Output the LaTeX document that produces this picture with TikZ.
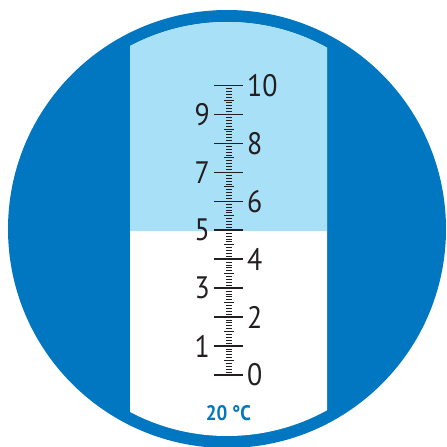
\documentclass[tikz,border=0pt]{standalone}
\usepackage{fontspec}
\usepackage{tikz}
\usetikzlibrary{positioning}
\newfontfamily\dinfont[FakeStretch=0.9]{PT Sans}
\definecolor{ringblue}{RGB}{0,119,192}
\definecolor{skyblue}{RGB}{168,224,248}
\definecolor{inkgray}{RGB}{35,31,32}

\begin{document}
\begin{tikzpicture}[x=1pt,y=-1pt,
  scalenum/.style={inner sep=0pt,text=inkgray,font=\dinfont\fontsize{31}{31}\selectfont},
  tickline/.style={draw=inkgray}]
\useasboundingbox (0,0) rectangle (447,447);
\clip (0,0) rectangle (447,447);
% lens ring and reading window
\fill[ringblue] (227,229) circle (219pt);
\begin{scope}
  \clip (130,0) rectangle (327,447);
  \fill[white] (227,229) circle (207pt);
  \clip (227,229) circle (207pt);
  \fill[skyblue] (130,0) rectangle (327,231);
\end{scope}
% minor ticks
\foreach \i in {1,...,99}{
  \pgfmathsetmacro\ty{375-2.895*\i}
  \pgfmathtruncatemacro\r{mod(\i,10)}
  \ifnum\r=0 \else
    \ifnum\r=5 \draw[tickline,line width=0.8pt] (224,\ty) -- (234,\ty);
    \else \draw[tickline,line width=0.8pt] (226,\ty) -- (232,\ty); \fi
  \fi
}
% major ticks and numbers
\foreach \v in {0,...,10}{
  \pgfmathsetmacro\ty{375-28.95*\v}
  \draw[tickline,line width=1.6pt] (214,\ty) -- (243,\ty);
  \pgfmathtruncatemacro\r{mod(\v,2)}
  \ifnum\r=0 \node[scalenum,anchor=west] (n\v) at (247,\ty) {\v};
  \else \node[scalenum,anchor=east] (n\v) at (210,\ty) {\v}; \fi
}
\node[inner sep=0pt,text=ringblue,font=\dinfont\bfseries\fontsize{21}{21}\selectfont] (temp) at (228.5,413.5) {20 °C};
\end{tikzpicture}
\end{document}
